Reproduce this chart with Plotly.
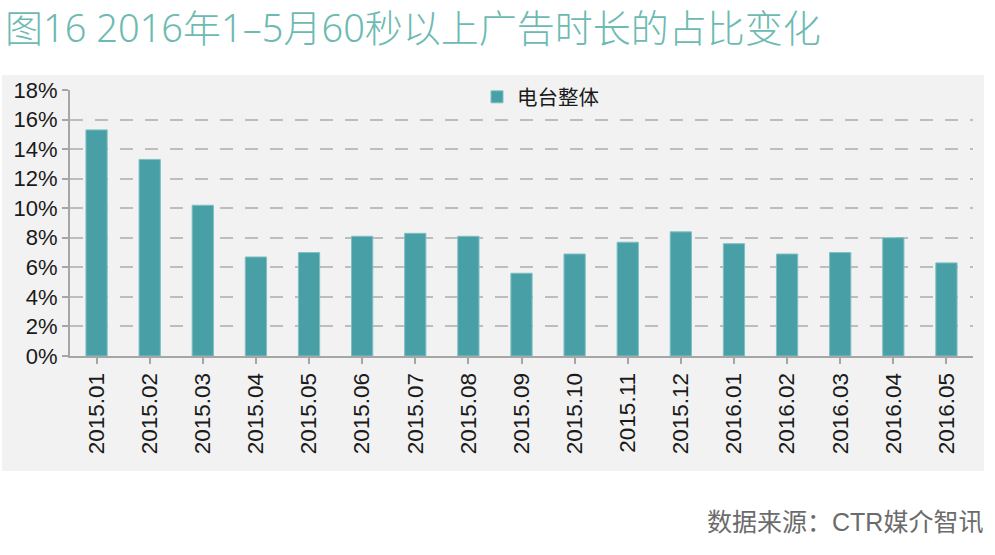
import plotly.graph_objects as go

categories = ["2015.01", "2015.02", "2015.03", "2015.04", "2015.05", "2015.06",
              "2015.07", "2015.08", "2015.09", "2015.10", "2015.11", "2015.12",
              "2016.01", "2016.02", "2016.03", "2016.04", "2016.05"]
values = [15.3, 13.3, 10.2, 6.7, 7.0, 8.1, 8.3, 8.1, 5.6, 6.9, 7.7, 8.4,
          7.6, 6.9, 7.0, 8.0, 6.3]
series_name = "电台整体"
y_ticks = [0, 2, 4, 6, 8, 10, 12, 14, 16, 18]
y_ticklabels = [f"{v}%" for v in y_ticks]
title_text = "图16 2016年1–5月60秒以上广告时长的占比变化"
source_text = "数据来源：CTR媒介智讯"

W, H = 995, 555
L, R, T, B = 70, 22, 90, 199
pw, ph = W - L - R, H - T - B


def px2x(px):
    return (px - L) / pw


def py2y(py):
    return (H - B - py) / ph


FONT = "Liberation Sans, Arial, Noto Sans CJK SC, sans-serif"

fig = go.Figure()
fig.add_trace(go.Bar(
    x=categories, y=values, name=series_name,
    marker=dict(color="#48a0a6", line=dict(color="#7fbfc3", width=1)),
    showlegend=True,
))

fig.add_shape(type="rect", xref="paper", yref="paper",
              x0=px2x(2), x1=px2x(984), y0=py2y(471), y1=py2y(75),
              fillcolor="#f2f2f2", line=dict(width=0), layer="below")

fig.update_layout(
    width=W, height=H,
    margin=dict(l=L, r=R, t=T, b=B),
    paper_bgcolor="white",
    plot_bgcolor="rgba(0,0,0,0)",
    bargap=0.6,
    font=dict(family=FONT, color="#1a1a1a", size=21),
    title=dict(text=title_text, xref="container", yref="container",
               x=5 / W, xanchor="left", y=1 - 29 / H, yanchor="middle",
               font=dict(family="Noto Sans, Noto Sans CJK SC, Liberation Sans, sans-serif",
                         size=38, color="#6cbab2", weight=300)),
    legend=dict(orientation="h", x=px2x(477), xanchor="left",
                y=py2y(97), yanchor="middle", bgcolor="rgba(0,0,0,0)",
                font=dict(size=20.5, family="Noto Sans CJK SC, sans-serif", color="#1a1a1a"),
                itemwidth=30),
    xaxis=dict(
        type="category", tickangle=-90, showgrid=False,
        showline=True, linecolor="#a6a6a6", linewidth=2,
        ticks="outside", ticklen=6, tickcolor="#a6a6a6", tickwidth=2,
        tickfont=dict(size=22.5, color="#1a1a1a"),
        range=[-0.5, len(categories) - 0.5],
    ),
    yaxis=dict(
        range=[0, 18], tickvals=y_ticks, ticktext=y_ticklabels,
        showgrid=True, gridcolor="#bdbdbd", gridwidth=2, griddash="13px,12px",
        showline=True, linecolor="#a6a6a6", linewidth=2,
        ticks="outside", ticklen=6, tickcolor="#a6a6a6", tickwidth=2,
        tickfont=dict(size=22, color="#1a1a1a"),
        zeroline=False,
    ),
    annotations=[dict(text=source_text, xref="paper", yref="paper",
                      x=px2x(985), xanchor="right", y=py2y(522), yanchor="middle",
                      showarrow=False,
                      font=dict(size=25, color="#6b6b6b",
                                family="Liberation Sans, Noto Sans CJK SC, sans-serif"))],
)

fig.write_html("out.html", config={"displayModeBar": False},
               post_script="document.body.style.margin='0';")
